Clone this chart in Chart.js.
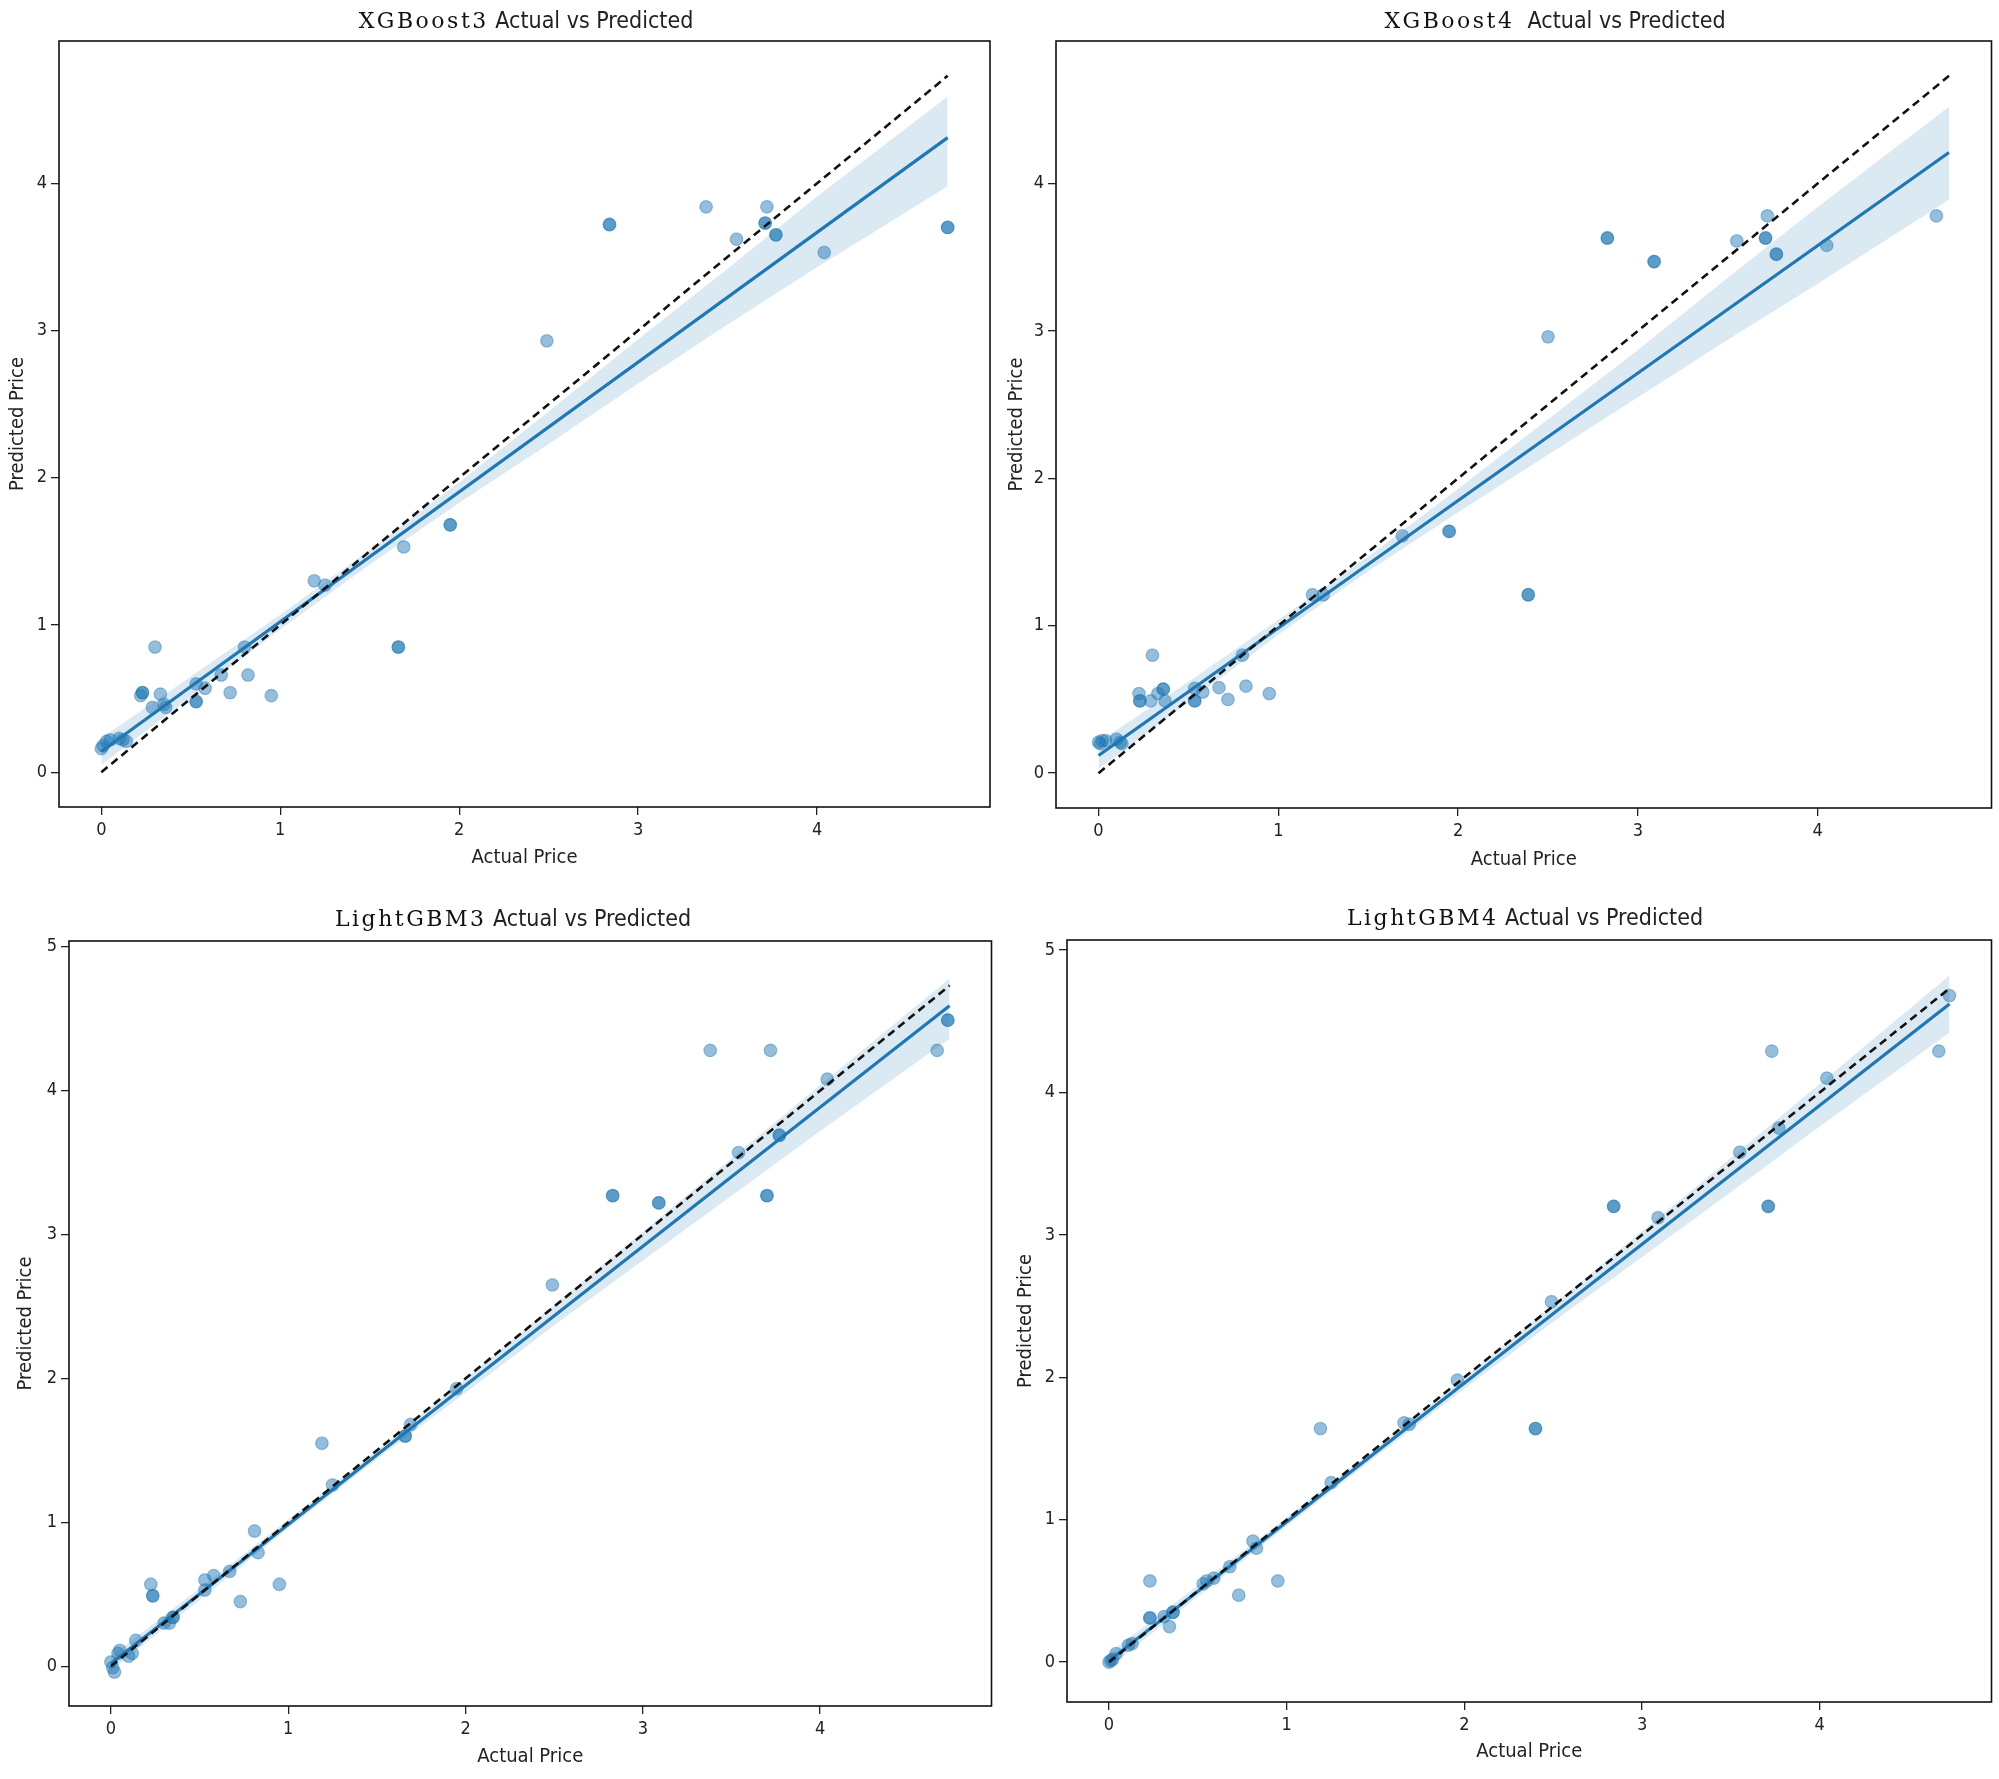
<!DOCTYPE html>
<html>
<head>
<meta charset="utf-8">
<script src="https://cdn.jsdelivr.net/npm/chart.js@4.4.1/dist/chart.umd.min.js"></script>
<style>
  html, body { margin: 0; padding: 0; background: #fff; }
  body { width: 1999px; height: 1779px; position: relative; overflow: hidden; }
  .box { position: absolute; }
  .ttl {
    position: absolute; transform: translate(-50%, -50%); white-space: nowrap;
    font-family: 'DejaVu Sans Condensed', 'Liberation Sans Narrow', 'DejaVu Sans', sans-serif;
    font-size: 23px; color: #222;
  }
  .ttl .s { font-family: 'DejaVu Serif', serif; letter-spacing: 2.5px; font-size: 22px; color: #111; }
</style>
</head>
<body>
<div class="box" id="b0" style="left:0;top:0;width:999px;height:890px"><canvas id="c0"></canvas></div>
<div class="box" id="b1" style="left:999px;top:0;width:1000px;height:890px"><canvas id="c1"></canvas></div>
<div class="box" id="b2" style="left:0;top:890px;width:999px;height:889px"><canvas id="c2"></canvas></div>
<div class="box" id="b3" style="left:999px;top:890px;width:1000px;height:889px"><canvas id="c3"></canvas></div>

<div class="ttl" style="left:526px;top:20px"><span class="s">XGBoost3</span> Actual vs Predicted</div>
<div class="ttl" style="left:1555px;top:20px"><span class="s">XGBoost4</span>&nbsp; Actual vs Predicted</div>
<div class="ttl" style="left:513px;top:918px"><span class="s">LightGBM3</span> Actual vs Predicted</div>
<div class="ttl" style="left:1525px;top:917px"><span class="s">LightGBM4</span> Actual vs Predicted</div>

<script>
// tick labels
const xTicks = [0, 1, 2, 3, 4];
const yTicksTop = [0, 1, 2, 3, 4];
const yTicksBottom = [0, 1, 2, 3, 4, 5];

// XGBoost3 scatter
const xgb3Actual = [0.00, 0.01, 0.03, 0.05, 0.10, 0.12, 0.14, 0.22, 0.23, 0.23, 0.30, 0.285, 0.33, 0.35, 0.36,
  0.53, 0.53, 0.53, 0.58, 0.67, 0.72, 0.80, 0.82, 0.95, 1.19, 1.25, 1.66, 1.66, 1.69, 1.95, 1.95,
  2.49, 2.84, 2.84, 3.38, 3.55, 3.71, 3.71, 3.72, 3.77, 3.77, 4.04, 4.73, 4.73];
const xgb3Pred = [0.16, 0.18, 0.21, 0.22, 0.23, 0.22, 0.21, 0.52, 0.54, 0.54, 0.85, 0.44, 0.53, 0.46, 0.44,
  0.60, 0.48, 0.48, 0.57, 0.66, 0.54, 0.85, 0.66, 0.52, 1.30, 1.27, 0.85, 0.85, 1.53, 1.68, 1.68,
  2.93, 3.72, 3.72, 3.84, 3.62, 3.73, 3.73, 3.84, 3.65, 3.65, 3.53, 3.70, 3.70];

// XGBoost4 scatter
const xgb4Actual = [0.00, 0.01, 0.02, 0.04, 0.10, 0.12, 0.13, 0.225, 0.23, 0.23, 0.30, 0.29, 0.33, 0.36, 0.36, 0.37,
  0.535, 0.535, 0.535, 0.58, 0.67, 0.72, 0.80, 0.82, 0.95, 1.19, 1.25, 1.69, 1.95, 1.95, 2.39, 2.39,
  2.50, 2.83, 2.83, 3.09, 3.09, 3.55, 3.71, 3.71, 3.72, 3.77, 3.77, 4.05, 4.66];
const xgb4Pred = [0.21, 0.20, 0.22, 0.22, 0.23, 0.21, 0.20, 0.54, 0.49, 0.49, 0.80, 0.49, 0.54, 0.57, 0.57, 0.49,
  0.575, 0.49, 0.49, 0.55, 0.58, 0.50, 0.80, 0.59, 0.54, 1.21, 1.21, 1.61, 1.64, 1.64, 1.21, 1.21,
  2.96, 3.63, 3.63, 3.47, 3.47, 3.61, 3.63, 3.63, 3.78, 3.52, 3.52, 3.58, 3.78];

// LightGBM3 scatter
const lgb3Actual = [0.00, 0.01, 0.02, 0.05, 0.04, 0.10, 0.12, 0.14, 0.225, 0.236, 0.236, 0.30, 0.33, 0.35, 0.35,
  0.53, 0.53, 0.58, 0.67, 0.73, 0.81, 0.83, 0.95, 1.19, 1.25, 1.66, 1.66, 1.69, 1.95, 2.49,
  2.83, 2.83, 3.09, 3.09, 3.38, 3.54, 3.70, 3.70, 3.72, 3.77, 3.77, 4.04, 4.66, 4.72, 4.72];
const lgb3Pred = [0.03, -0.01, -0.04, 0.11, 0.09, 0.07, 0.09, 0.18, 0.57, 0.49, 0.49, 0.30, 0.30, 0.34, 0.34,
  0.60, 0.53, 0.63, 0.66, 0.45, 0.94, 0.79, 0.57, 1.55, 1.26, 1.60, 1.60, 1.68, 1.93, 2.65,
  3.27, 3.27, 3.22, 3.22, 4.28, 3.57, 3.27, 3.27, 4.28, 3.69, 3.69, 4.08, 4.28, 4.49, 4.49];

// LightGBM4 scatter
const lgb4Actual = [0.00, 0.01, 0.02, 0.04, 0.11, 0.13, 0.23, 0.23, 0.23, 0.31, 0.34, 0.36, 0.36,
  0.53, 0.55, 0.59, 0.68, 0.73, 0.81, 0.83, 0.95, 1.19, 1.25, 1.66, 1.69, 1.96, 2.40, 2.40,
  2.49, 2.84, 2.84, 3.09, 3.55, 3.71, 3.71, 3.73, 3.77, 4.04, 4.67, 4.73];
const lgb4Pred = [0.00, 0.01, 0.02, 0.06, 0.12, 0.13, 0.57, 0.31, 0.31, 0.32, 0.25, 0.35, 0.35,
  0.55, 0.57, 0.59, 0.67, 0.47, 0.85, 0.80, 0.57, 1.64, 1.26, 1.68, 1.67, 1.98, 1.64, 1.64,
  2.53, 3.20, 3.20, 3.12, 3.58, 3.20, 3.20, 4.29, 3.75, 4.10, 4.29, 4.68];

// regression fit lines (ends) and confidence bands
const fitX = [0, 4.73];
const xgb3Fit = [0.14, 4.31];
const xgb4Fit = [0.12, 4.21];
const lgb3Fit = [0.02, 4.59];
const lgb4Fit = [0.01, 4.62];

const bandX = [0, 0.5, 1, 1.5, 2, 2.5, 3, 3.5, 4, 4.73];
const xgb3Upper = [0.23, 0.65, 1.07, 1.51, 1.97, 2.45, 2.94, 3.42, 3.91, 4.59];
const xgb3Lower = [0.05, 0.51, 0.97, 1.41, 1.83, 2.23, 2.64, 3.04, 3.43, 3.98];
const xgb4Upper = [0.21, 0.62, 1.04, 1.47, 1.93, 2.40, 2.87, 3.36, 3.84, 4.52];
const xgb4Lower = [0.03, 0.48, 0.94, 1.37, 1.77, 2.16, 2.55, 2.94, 3.32, 3.89];
const lgb3Upper = [0.07, 0.54, 1.02, 1.50, 2.00, 2.51, 3.02, 3.53, 4.04, 4.78];
const lgb3Lower = [-0.03, 0.46, 0.96, 1.44, 1.90, 2.37, 2.82, 3.27, 3.72, 4.36];
const lgb4Upper = [0.06, 0.54, 1.015, 1.50, 2.00, 2.51, 3.025, 3.54, 4.06, 4.82];
const lgb4Lower = [-0.04, 0.46, 0.955, 1.44, 1.92, 2.39, 2.845, 3.30, 3.76, 4.42];

// perfect prediction line
const diagX = [0, 4.73];
const diagY = [0, 4.73];

const BLUE = "rgb(31,119,180)";
const SANS = "'DejaVu Sans Condensed', 'Liberation Sans Narrow', 'DejaVu Sans', sans-serif";

const zip = (xs, ys) => xs.map((x, i) => ({x: x, y: ys[i]}));

// black box around the plot area, like matplotlib spines
const framePlugin = {
    id: "frame",
    afterDatasetsDraw(chart) {
        const a = chart.chartArea;
        const ctx = chart.ctx;
        ctx.save();
        ctx.strokeStyle = "#111";
        ctx.lineWidth = 1.6;
        ctx.strokeRect(a.left, a.top, a.right - a.left, a.bottom - a.top);
        ctx.restore();
    }
};

function makeChart(id, cfg) {
    const axisTitle = (text) => ({
        display: true, text: text, color: "#222", padding: 0,
        font: {family: SANS, size: 20}
    });
    const tickStyle = {color: "#222", font: {family: SANS, size: 18}};
    const gridStyle = {display: true, drawOnChartArea: false, drawTicks: true, tickLength: 8, color: "#222", lineWidth: 1.3};

    new Chart(document.getElementById(id), {
        type: "scatter",
        data: {
            datasets: [
                {
                    type: "line", label: "diag", data: zip(diagX, diagY), order: 1,
                    borderColor: "#111", borderWidth: 2.6, borderDash: [8, 5], pointRadius: 0, fill: false
                },
                {
                    type: "line", label: "upper", data: zip(bandX, cfg.upper), order: 3,
                    borderWidth: 0, pointRadius: 0, fill: "+1", backgroundColor: "rgba(31,119,180,0.16)"
                },
                {
                    type: "line", label: "lower", data: zip(bandX, cfg.lower), order: 3,
                    borderWidth: 0, pointRadius: 0, fill: false
                },
                {
                    type: "line", label: "fit", data: zip(fitX, cfg.fit), order: 2,
                    borderColor: BLUE, borderWidth: 3.2, pointRadius: 0, fill: false
                },
                {
                    label: "points", data: zip(cfg.actual, cfg.pred), order: 4,
                    pointRadius: 6.3, pointBackgroundColor: "rgba(31,119,180,0.48)",
                    pointBorderColor: "rgba(31,119,180,0.4)", pointBorderWidth: 1.2
                }
            ]
        },
        options: {
            responsive: true,
            maintainAspectRatio: false,
            animation: false,
            layout: {padding: cfg.pad},
            plugins: {legend: {display: false}, tooltip: {enabled: false}},
            scales: {
                x: {
                    type: "linear", min: -0.2365, max: 4.9665,
                    title: axisTitle("Actual Price"),
                    ticks: Object.assign({padding: 5, maxRotation: 0}, tickStyle),
                    grid: gridStyle,
                    border: {display: false},
                    afterBuildTicks: (s) => { s.ticks = xTicks.map(v => ({value: v})); },
                    afterFit: (s) => { s.height = cfg.xh; }
                },
                y: {
                    type: "linear", min: cfg.ymin, max: cfg.ymax,
                    title: axisTitle("Predicted Price"),
                    ticks: Object.assign({padding: 4}, tickStyle),
                    grid: gridStyle,
                    border: {display: false},
                    afterBuildTicks: (s) => { s.ticks = cfg.yticks.map(v => ({value: v})); },
                    afterFit: (s) => { s.width = cfg.yw; }
                }
            }
        },
        plugins: [framePlugin]
    });
}

makeChart("c0", {
    actual: xgb3Actual, pred: xgb3Pred, fit: xgb3Fit, upper: xgb3Upper, lower: xgb3Lower,
    ymin: -0.2365, ymax: 4.9665, yticks: yTicksTop,
    pad: {left: 6, right: 9, top: 41, bottom: 20}, yw: 53, xh: 63
});
makeChart("c1", {
    actual: xgb4Actual, pred: xgb4Pred, fit: xgb4Fit, upper: xgb4Upper, lower: xgb4Lower,
    ymin: -0.2365, ymax: 4.9665, yticks: yTicksTop,
    pad: {left: 6, right: 7, top: 41, bottom: 18}, yw: 51, xh: 64
});
makeChart("c2", {
    actual: lgb3Actual, pred: lgb3Pred, fit: lgb3Fit, upper: lgb3Upper, lower: lgb3Lower,
    ymin: -0.276, ymax: 5.04, yticks: yTicksBottom,
    pad: {left: 14, right: 4, top: 51, bottom: 10}, yw: 55, xh: 63
});
makeChart("c3", {
    actual: lgb4Actual, pred: lgb4Pred, fit: lgb4Fit, upper: lgb4Upper, lower: lgb4Lower,
    ymin: -0.28, ymax: 5.07, yticks: yTicksBottom,
    pad: {left: 15, right: 6, top: 50, bottom: 15}, yw: 53, xh: 62
});
</script>
</body>
</html>
